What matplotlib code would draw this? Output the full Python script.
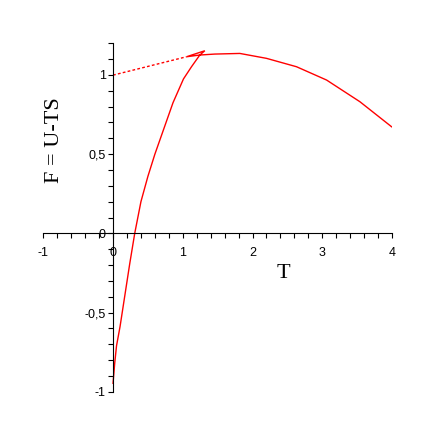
import matplotlib
matplotlib.use("Agg")
import matplotlib.pyplot as plt
import numpy as np

# Main (solid) curve: left branch up to the cusp,
# back to the second cusp, then the right branch
curve_T = [0.0, 0.024, 0.05, 0.10, 0.17, 0.24, 0.311, 0.40, 0.50, 0.60,
           0.74, 0.86, 1.01, 1.125, 1.244, 1.316,
           1.053, 1.244, 1.459, 1.818, 2.2, 2.631, 3.062, 3.540, 3.994]
curve_F = [-0.947, -0.82, -0.71, -0.59, -0.39, -0.19, 0.0, 0.20, 0.36, 0.50,
           0.675, 0.825, 0.975, 1.052, 1.126, 1.153,
           1.115, 1.126, 1.132, 1.136, 1.105, 1.052, 0.968, 0.831, 0.673]

# Dotted continuation
dot_T = [0.0, 1.053]
dot_F = [0.999, 1.115]

xticks = [-1, 0, 1, 2, 3, 4]
xticklabels = ["-1", "0", "1", "2", "3", "4"]
yticks = [-1, -0.5, 0, 0.5, 1]
yticklabels = ["-1", "-0,5", "0", "0,5", "1"]

W = H = 436
fig = plt.figure(figsize=(W / 100, H / 100), dpi=100)
ax = fig.add_axes([43.3 / W, 1 - 391.7 / H, (392 - 43.3) / W, (391.7 - 43.3) / H])

ax.plot(curve_T, curve_F, color="#ff0000", lw=1.0, solid_joinstyle="miter")
ax.plot(dot_T, dot_F, color="#ff0000", lw=1.0, linestyle=(0, (2, 1.6)))

ax.set_xlim(-1, 4)
ax.set_ylim(-1, 1.2)

ax.spines["left"].set_position(("data", 0))
ax.spines["bottom"].set_position(("data", 0))
ax.spines["top"].set_visible(False)
ax.spines["right"].set_visible(False)
for s in ("left", "bottom"):
    ax.spines[s].set_linewidth(0.8)

ax.set_xticks(xticks)
ax.set_xticklabels(xticklabels)
ax.set_yticks(yticks)
ax.set_yticklabels(yticklabels)
ax.set_xticks(np.arange(-1, 4.01, 0.2), minor=True)
ax.set_yticks(np.arange(-1, 1.201, 0.1), minor=True)

for lab in ax.get_xticklabels() + ax.get_yticklabels():
    lab.set_family("Liberation Sans")
    lab.set_fontsize(9)

ax.tick_params(axis="both", which="both", direction="out", length=3.6, width=0.8, color="black")
ax.tick_params(axis="x", which="major", pad=6)
ax.tick_params(axis="y", which="major", pad=1.5)

fig.text(283 / W, 1 - 273 / H, "T", family="Liberation Serif", fontsize=16,
         ha="center", va="center")
fig.text(54 / W, 1 - 140 / H, "F = U-TS", family="Liberation Serif", fontsize=16,
         ha="center", va="center", rotation=90)

fig.savefig("out.png", dpi=100)
